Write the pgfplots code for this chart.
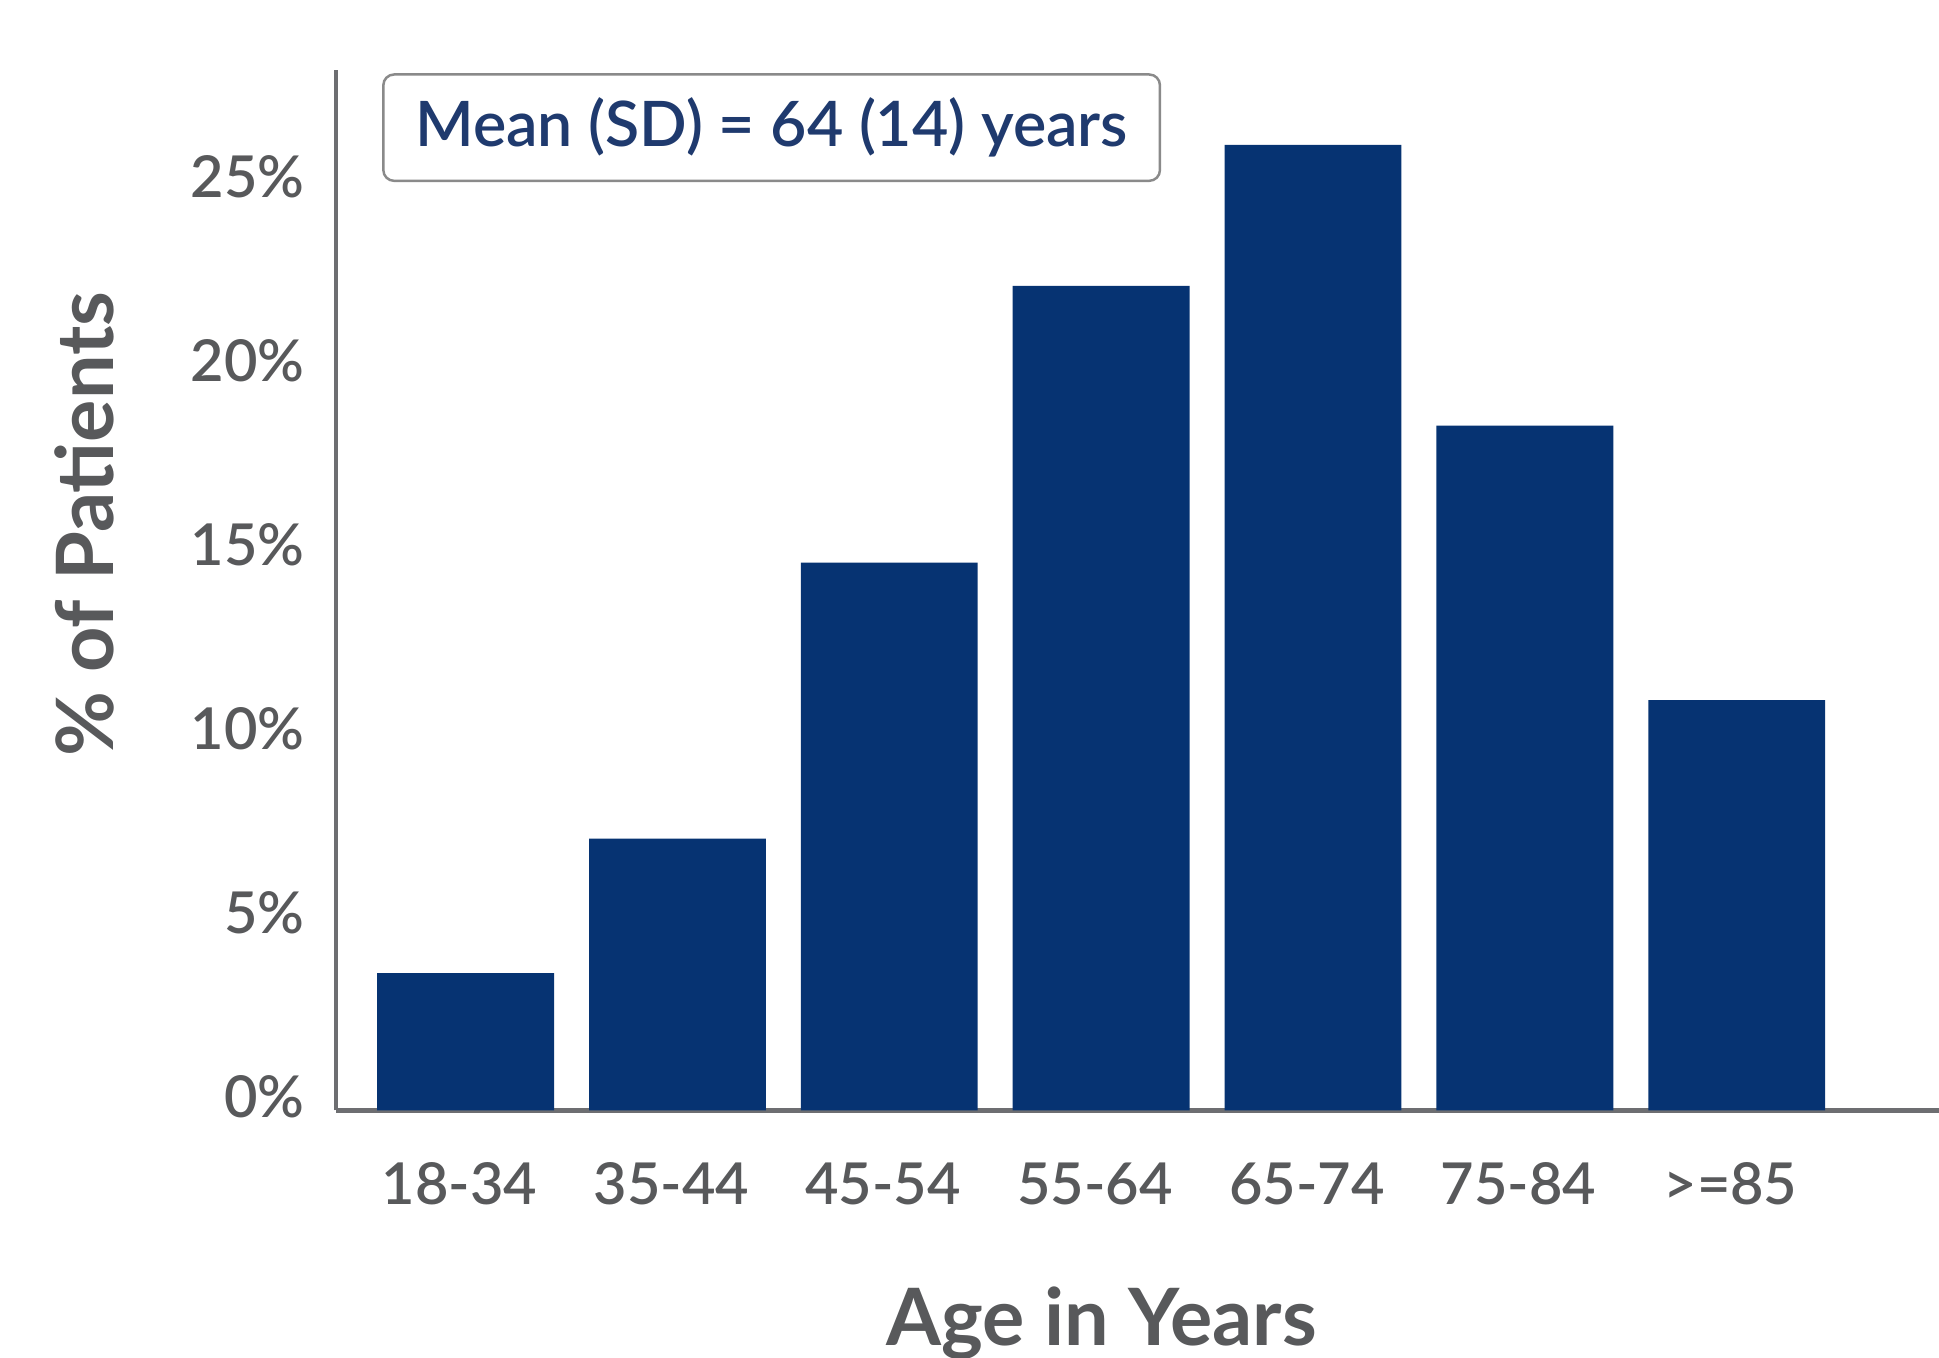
\documentclass[border=0pt]{standalone}
\usepackage{pgfplots}
\pgfplotsset{compat=1.18}
\usepackage{fontspec}
\setmainfont{Lato}
\newfontfamily\tickfont{Lato Semibold}
\definecolor{barblue}{HTML}{063372}
\definecolor{txtgray}{HTML}{58595B}
\definecolor{axgray}{HTML}{6D6E71}
\definecolor{navy}{HTML}{1F3A6E}
\definecolor{boxgray}{HTML}{8A8A8A}
\begin{document}
\begin{tikzpicture}
\useasboundingbox (-81.6pt,-60pt) rectangle (388.8pt,269.4pt);
\begin{axis}[
  scale only axis,
  width=388.8pt, height=252.3pt,
  xmin=-0.61, xmax=6.955,
  ymin=0, ymax=28.26,
  axis x line=bottom, axis y line=left,
  axis line style={axgray, line width=1pt, -},
  major tick length=0pt,
  xtick={0,1,2,3,4,5,6},
  xticklabels={18-34,35-44,45-54,55-64,65-74,75-84,>=85},
  ytick={0,5,10,15,20,25},
  yticklabels={0\%,5\%,10\%,15\%,20\%,25\%},
  tick label style={font=\tickfont\fontsize{14}{16}\selectfont, text=txtgray},
  xticklabel style={anchor=center, yshift=-17.7pt, xshift=-1.5pt},
  yticklabel style={anchor=east, inner sep=0pt, xshift=-7.5pt, yshift=3.3pt},
  xlabel={Age in Years},
  ylabel={\% of Patients},
  label style={font=\bfseries\fontsize{19.2}{22}\selectfont, text=txtgray},
  xlabel style={at={(axis description cs:0.4776,-0.2045)}, anchor=center},
  ylabel style={at={(axis description cs:-0.1574,0.5636)}, anchor=center, rotate=0},
  clip=false,
]
\addplot[ybar, bar width=42.9pt, fill=barblue, draw=none] coordinates {
  (0,3.73) (1,7.39) (2,14.89) (3,22.41) (4,26.24) (5,18.61) (6,11.15)
};
\node[draw=boxgray, line width=0.6pt, rounded corners=2.6pt, fill=white,
  minimum width=188.4pt, minimum height=25.8pt, inner sep=0pt,
  font=\tickfont\fontsize{15.2}{17}\selectfont, text=navy]
  at (rel axis cs:0.2716,0.945) {Mean (SD) = 64 (14) years};
\end{axis}
\end{tikzpicture}
\end{document}
